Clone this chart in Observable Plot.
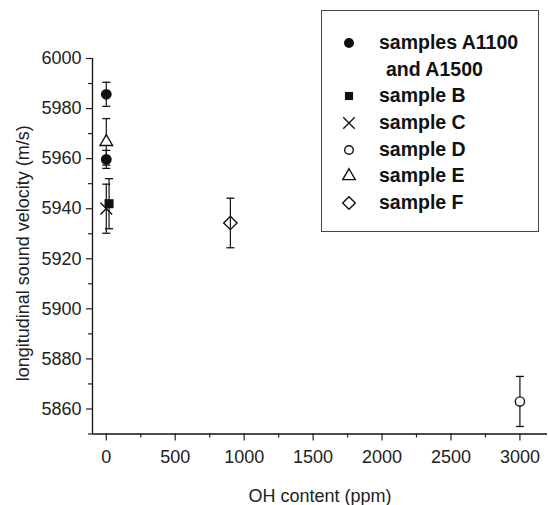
<!DOCTYPE html>
<html><head><meta charset="utf-8">
<script src="https://cdn.jsdelivr.net/npm/d3@7"></script>
<script src="https://cdn.jsdelivr.net/npm/@observablehq/plot@0.6"></script>
<style>
body{margin:0;background:#fff;}
#wrap{position:relative;width:548px;height:505px;overflow:hidden;}
#legend{position:absolute;left:321px;top:10px;width:218px;height:222px;border:1.3px solid #444;box-sizing:border-box;
  font:bold 19.5px "Liberation Sans",Arial,sans-serif;color:#111;padding-top:18px;}
.row{position:relative;height:26.7px;line-height:26.7px;white-space:nowrap;}
.row svg{position:absolute;left:18px;top:5px;}
.row span{position:absolute;left:57px;}
.row span.indent{left:64px;}
</style></head>
<body>
<div id="wrap"><div id="legend"></div></div>
<script>
// ---- data ----
const seriesNames = ["samples A1100 and A1500", "sample B", "sample C", "sample D", "sample E", "sample F"];
const legendLines = [["samples A1100", "and A1500"], ["sample B"], ["sample C"], ["sample D"], ["sample E"], ["sample F"]];
const seriesSymbols = ["circle", "square", "times", "circle", "triangle2", "diamond2"];
const seriesFilled = [true, true, false, false, false, false];

const ohA = [0, 0];        const velA = [5985.7, 5959.7]; const errA = [4.8, 3.6];
const ohB = [20];          const velB = [5942.0];         const errB = [10.0];
const ohC = [0];           const velC = [5940.0];         const errC = [9.8];
const ohD = [3000];        const velD = [5863.0];         const errD = [10.0];
const ohE = [0];           const velE = [5966.7];         const errE = [9.3];
const ohF = [900];         const velF = [5934.3];         const errF = [9.9];

const xMajor = [0, 500, 1000, 1500, 2000, 2500, 3000];
const xMinor = [250, 750, 1250, 1750, 2250, 2750];
const yMajor = [5860, 5880, 5900, 5920, 5940, 5960, 5980, 6000];
const yMinor = [5850, 5870, 5890, 5910, 5930, 5950, 5970, 5990];
const xDomain = [-100, 3200];
const yDomain = [5850, 6000];
const xLabel = "OH content (ppm)";
const yLabel = "longitudinal sound velocity (m/s)";

// ---- build table ----
const ohs = [ohA, ohB, ohC, ohD, ohE, ohF];
const vels = [velA, velB, velC, velD, velE, velF];
const errs = [errA, errB, errC, errD, errE, errF];
const rows = [];
seriesNames.forEach((name, s) => {
  ohs[s].forEach((oh, i) => rows.push({series: s, name, oh, vel: vels[s][i], err: errs[s][i]}));
});

const capSymbol = {draw(context, size) { const w = Math.sqrt(size / Math.PI); context.moveTo(-w, 0); context.lineTo(w, 0); }};
const plotR = [5.4, 5.1, 5.4, 4.6, 6.0, 6.0];
const ink = "#111";

const marks = [
  Plot.axisY({ticks: yMajor, tickSize: 6, tickPadding: 5, tickFormat: d3.format("d"), fontSize: 18, strokeWidth: 1.2, label: null}),
  Plot.axisY({ticks: yMinor, tickSize: 4, tickFormat: () => "", strokeWidth: 1.2, label: null}),
  Plot.text([yLabel], {text: d => d, frameAnchor: "left", textAnchor: "middle", rotate: -90, lineAnchor: "top", dx: -76, dy: 7, fontSize: 18, fill: "#222"}),
  Plot.axisX({ticks: xMajor, tickSize: 7, tickPadding: 9, tickFormat: d3.format("d"), fontSize: 18, strokeWidth: 1.2,
    label: xLabel, labelAnchor: "center", labelArrow: "none", labelOffset: 68}),
  Plot.axisX({ticks: xMinor, tickSize: 4, tickFormat: () => "", strokeWidth: 1.2, label: null}),
  Plot.ruleX([xDomain[0]], {stroke: ink, strokeWidth: 1.3}),
  Plot.ruleY([yDomain[0]], {stroke: ink, strokeWidth: 1.3}),
  // error bars
  Plot.ruleX(rows, {x: "oh", y1: d => d.vel - d.err, y2: d => d.vel + d.err, stroke: ink, strokeWidth: 1.2}),
  Plot.dot(rows, {x: "oh", y: d => d.vel - d.err, symbol: capSymbol, r: 4, stroke: ink, strokeWidth: 1.3}),
  Plot.dot(rows, {x: "oh", y: d => d.vel + d.err, symbol: capSymbol, r: 4, stroke: ink, strokeWidth: 1.3})
];
seriesNames.forEach((name, s) => {
  const data = rows.filter(d => d.series === s);
  const filled = seriesFilled[s];
  marks.push(Plot.dot(data, {x: "oh", y: "vel", symbol: seriesSymbols[s], r: plotR[s],
    fill: filled ? ink : (seriesSymbols[s] === "diamond2" ? "none" : "white"),
    stroke: filled ? "none" : ink, strokeWidth: 1.4}));
});

const chart = Plot.plot({
  width: 548, height: 505,
  marginLeft: 92, marginRight: 1, marginTop: 58, marginBottom: 71.5,
  x: {domain: xDomain},
  y: {domain: yDomain},
  style: {fontFamily: '"Liberation Sans", Arial, sans-serif', fontSize: "18px", color: "#222", background: "white"},
  marks
});
document.getElementById("wrap").prepend(chart);

// ---- legend ----
const legendR = [5.0, 4.6, 5.3, 4.3, 6.0, 5.7];
const legend = d3.select("#legend");
legendLines.forEach((lines, s) => {
  lines.forEach((line, j) => {
    const row = legend.append("div").attr("class", "row");
    if (j === 0) {
      const svg = row.append("svg").attr("width", 18).attr("height", 18).attr("viewBox", "-9 -9 18 18");
      const sym = {circle: d3.symbolCircle, square: d3.symbolSquare, times: d3.symbolTimes, triangle2: d3.symbolTriangle2, diamond2: d3.symbolDiamond2}[seriesSymbols[s]];
      const filled = seriesFilled[s];
      svg.append("path").attr("d", d3.symbol(sym, Math.PI * legendR[s] ** 2)())
        .attr("fill", filled ? ink : "none").attr("stroke", filled ? "none" : ink).attr("stroke-width", 1.4);
    }
    row.append("span").attr("class", j > 0 ? "indent" : null).text(line);
  });
});
</script>
</body></html>
